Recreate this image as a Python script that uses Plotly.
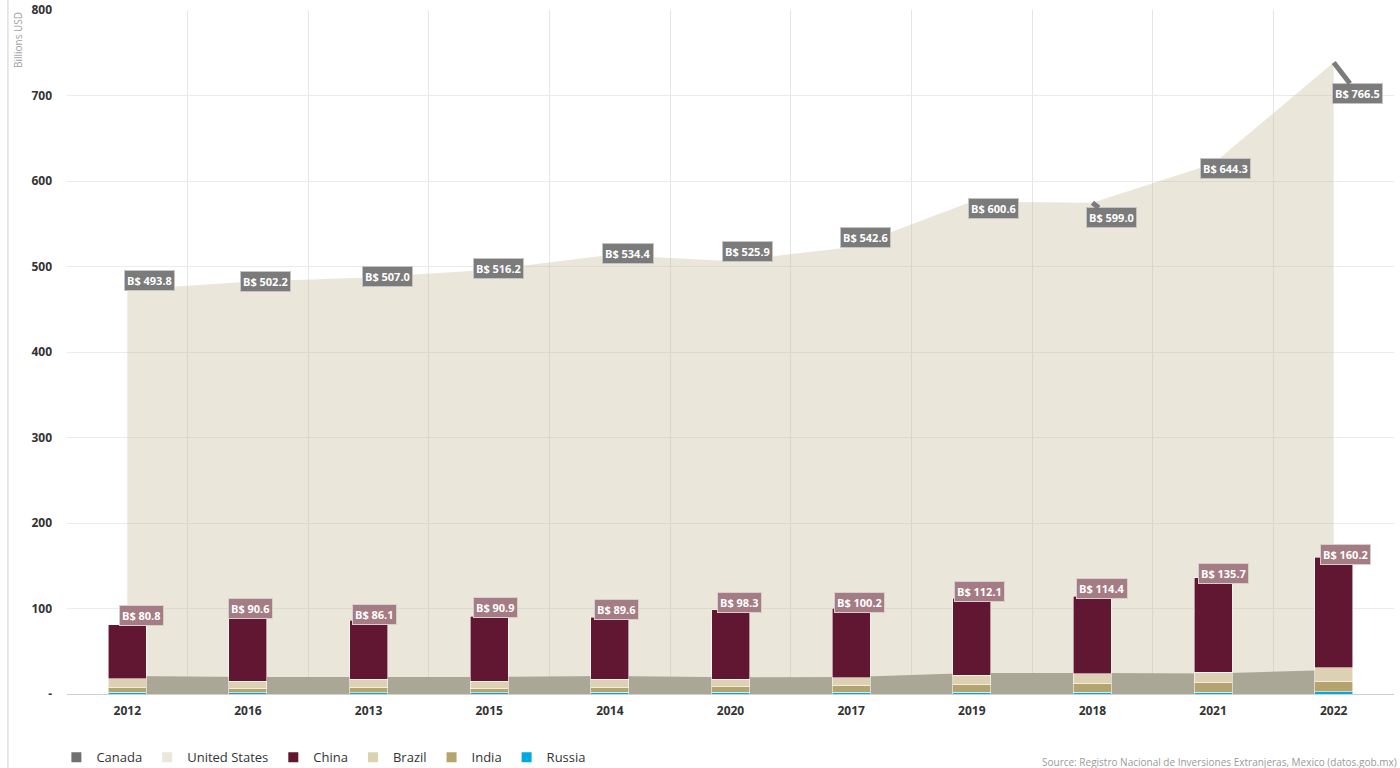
import plotly.graph_objects as go

# Years in the order the source table lists them
years = ["2012", "2016", "2013", "2015", "2014", "2020", "2017", "2019", "2018", "2021", "2022"]

# Foreign investment stock by origin, billions USD
canada = [21.0, 20.0, 20.0, 20.0, 21.0, 19.5, 20.0, 24.5, 24.5, 24.0, 28.0]
united_states = [472.8, 482.2, 487.0, 496.2, 513.4, 506.4, 522.6, 576.1, 574.5, 620.3, 738.5]
china = [62.7, 75.4, 68.6, 75.7, 72.6, 81.2, 81.4, 90.2, 90.8, 110.4, 129.4]
brazil = [10.5, 8.2, 9.4, 8.4, 9.0, 8.6, 8.6, 11.0, 11.0, 12.0, 16.7]
india = [5.8, 5.4, 6.4, 5.2, 6.2, 6.6, 8.2, 8.8, 10.4, 11.0, 11.7]
russia = [1.8, 1.6, 1.7, 1.6, 1.8, 1.9, 2.0, 2.1, 2.2, 2.3, 2.4]

y_ticks = [0, 100, 200, 300, 400, 500, 600, 700, 800]
y_tick_text = ["-", "100", "200", "300", "400", "500", "600", "700", "800"]

# Pixel offsets of the callout boxes from the points they describe
na_offsets = [(22, -9), (18, 0), (19, -1), (9, -1), (18, -2), (17, -10),
              (14, -10), (22, 7), (19, 15), (12, 5), (24, 31)]
asia_offsets = [(14, -9), (3, -8), (6, -6), (6, -9), (7, -8), (9, -7),
                (8, -6), (8, -7), (10, -8), (10, -4), (12, -3)]

FONT = "Open Sans"
C_US = "rgba(200,190,155,0.38)"
C_CANADA = "#aaa797"
C_CHINA = "#611731"
C_BRAZIL = "#dcd2b3"
C_INDIA = "#b5a46d"
C_RUSSIA = "#00a9e0"

fig = go.Figure()

# Areas (each drawn from zero, Canada in front)
fig.add_trace(go.Scatter(x=years, y=united_states, mode="lines", fill="tozeroy",
                         fillcolor=C_US, line=dict(width=0, color=C_US),
                         showlegend=False, hoverinfo="skip"))
fig.add_trace(go.Scatter(x=years, y=canada, mode="lines", fill="tozeroy",
                         fillcolor=C_CANADA, line=dict(width=0, color=C_CANADA),
                         showlegend=False, hoverinfo="skip"))

# Stacked bars on an overlaid pair of axes so they sit in front of the areas
bar_line = dict(width=0.8, color="rgba(255,255,255,0.7)")
for name, vals, col in [("Russia", russia, C_RUSSIA), ("India", india, C_INDIA),
                        ("Brazil", brazil, C_BRAZIL), ("China", china, C_CHINA)]:
    fig.add_trace(go.Bar(x=years, y=vals, name=name, marker=dict(color=col, line=bar_line),
                         width=0.315, showlegend=False, xaxis="x2", yaxis="y2"))

# Legend entries
legend_items = [("Canada", "#707070"), ("United States", "#ebe7dc"), ("China", C_CHINA),
                ("Brazil", C_BRAZIL), ("India", C_INDIA), ("Russia", C_RUSSIA)]
for name, col in legend_items:
    fig.add_trace(go.Scatter(x=[years[0]], y=[None], mode="markers", name=name,
                             marker=dict(symbol="square", size=10, color=col),
                             hoverinfo="skip"))

annotations = []
# Totals for the North American area series
for i, yr in enumerate(years):
    total = united_states[i] + canada[i]
    ax, ay = na_offsets[i]
    annotations.append(dict(
        x=i, y=united_states[i], xref="x", yref="y",
        text=f"<b>B$ {total:.1f}</b>", showarrow=True, ax=ax, ay=ay,
        arrowhead=0, arrowwidth=5, arrowcolor="#7b7b7b", standoff=0,
        bgcolor="#7b7b7b", bordercolor="#c4c4c4", borderwidth=1, borderpad=2,
        font=dict(family=FONT, size=11, color="white")))
# Totals for the stacked bars
for i, yr in enumerate(years):
    total = china[i] + brazil[i] + india[i] + russia[i]
    dx, dy = asia_offsets[i]
    annotations.append(dict(
        x=i, y=total, xref="x", yref="y", text=f"<b>B$ {total:.1f}</b>",
        showarrow=False, xshift=dx, yshift=-dy,
        bgcolor="#a57b84", bordercolor="#d5d0d0", borderwidth=1, borderpad=2,
        font=dict(family=FONT, size=11, color="white")))

# Axis title and source note
annotations.append(dict(
    text="Billions USD", textangle=-90, xref="paper", yref="paper",
    x=-0.0369, y=1.0, xanchor="center", yanchor="top", showarrow=False,
    font=dict(family=FONT, size=10, color="#a0a0a0")))
annotations.append(dict(
    text="Source: Registro Nacional de Inversiones Extranjeras, Mexico (datos.gob.mx)",
    xref="paper", yref="paper", x=0.7332, y=-0.0994, xanchor="left", yanchor="middle",
    showarrow=False, font=dict(family=FONT, size=10, color="#9a9a9a")))

x_range = [-0.5, len(years) - 0.5]
fig.update_layout(
    width=1400, height=768,
    margin=dict(l=67, r=6, t=10, b=74, autoexpand=False),
    paper_bgcolor="white", plot_bgcolor="white",
    barmode="stack",
    font=dict(family=FONT, color="#333"),
    annotations=annotations,
    shapes=[dict(type="line", xref="paper", yref="paper", x0=-0.0445, x1=-0.0445,
                 y0=-0.11, y1=1.02, line=dict(color="#cfcfcf", width=1))],
    legend=dict(orientation="h", x=-0.008, y=-0.0705, xanchor="left", yanchor="top",
                font=dict(family=FONT, size=13, color="#333"),
                itemwidth=30, traceorder="normal"),
    xaxis=dict(type="category", categoryorder="array", categoryarray=years,
               range=x_range,
               tickson="boundaries", showgrid=True, gridcolor="#e6e6e6", gridwidth=1,
               showline=True, linecolor="#d0d0d0", linewidth=1, ticks="",
               ticklabelstandoff=6,
               tickfont=dict(family=FONT, size=12, color="#333", weight="bold"),
               zeroline=False, fixedrange=True),
    yaxis=dict(range=[0, 800], tickvals=y_ticks, ticktext=y_tick_text,
               showgrid=True, gridcolor="#ebebeb", gridwidth=1, zeroline=False,
               ticks="", ticklabelstandoff=14,
               tickfont=dict(family=FONT, size=12, color="#333", weight="bold")),
    xaxis2=dict(type="category", categoryorder="array", categoryarray=years,
                range=x_range, overlaying="x", visible=False),
    yaxis2=dict(range=[0, 800], overlaying="y", visible=False),
)

fig.write_html("out.html")
